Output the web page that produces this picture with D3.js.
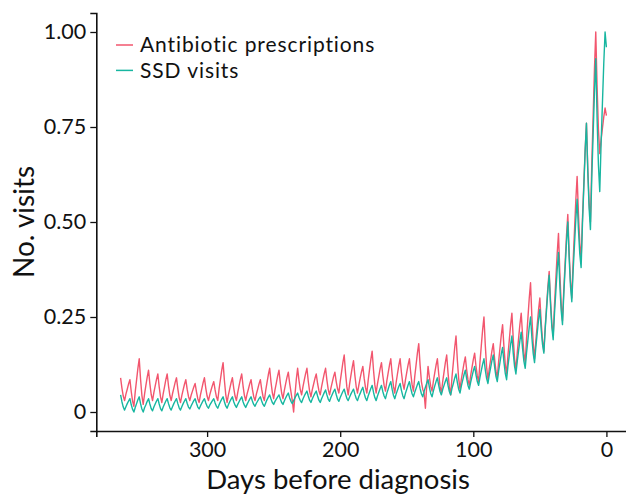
<!DOCTYPE html>
<html>
<head>
<meta charset="utf-8">
<script src="https://cdn.jsdelivr.net/npm/d3@7/dist/d3.min.js"></script>
<style>
  html, body { margin: 0; padding: 0; background: #fff; overflow: hidden; }
  svg { display: block; }
  text { font-family: Lato, "Open Sans", sans-serif; fill: #111; }
</style>
</head>
<body>
<svg id="chart" width="626" height="496"></svg>
<script>
// Days before diagnosis, from one year out down to the day of diagnosis
const days = d3.range(365, -1, -1);

// Daily visit counts, scaled so each series peaks at 1 (index 0 = day 365)
const antibiotic = [
  0.09,
  0.063, 0.042, 0.03, 0.047, 0.06, 0.074, 0.085,
  0.054, 0.029, 0.015, 0.053, 0.084, 0.115, 0.14,
  0.086, 0.044, 0.02, 0.047, 0.07, 0.092, 0.11,
  0.074, 0.046, 0.03, 0.051, 0.069, 0.086, 0.10,
  0.066, 0.04, 0.025, 0.048, 0.066, 0.085, 0.10,
  0.069, 0.044, 0.03, 0.048, 0.063, 0.078, 0.09,
  0.061, 0.038, 0.025, 0.043, 0.058, 0.073, 0.085,
  0.06, 0.041, 0.03, 0.044, 0.055, 0.066, 0.075,
  0.053, 0.035, 0.025, 0.045, 0.061, 0.077, 0.09,
  0.063, 0.042, 0.03, 0.045, 0.058, 0.07, 0.08,
  0.058, 0.04, 0.03, 0.06, 0.085, 0.11, 0.13,
  0.083, 0.046, 0.025, 0.045, 0.061, 0.077, 0.09,
  0.063, 0.042, 0.03, 0.051, 0.069, 0.086, 0.10,
  0.069, 0.044, 0.03, 0.047, 0.06, 0.074, 0.085,
  0.06, 0.041, 0.03, 0.047, 0.06, 0.074, 0.085,
  0.06, 0.041, 0.03, 0.056, 0.077, 0.098, 0.115,
  0.079, 0.051, 0.035, 0.058, 0.076, 0.095, 0.11,
  0.076, 0.05, 0.035, 0.056, 0.074, 0.091, 0.105,
  0.076, 0.053, 0.03, 0.0, 0.045, 0.085, 0.115,
  0.084, 0.059, 0.045, 0.066, 0.084, 0.101, 0.115,
  0.081, 0.055, 0.04, 0.058, 0.073, 0.088, 0.10,
  0.075, 0.056, 0.045, 0.066, 0.084, 0.101, 0.115,
  0.084, 0.059, 0.045, 0.063, 0.078, 0.093, 0.105,
  0.08, 0.061, 0.05, 0.08, 0.105, 0.13, 0.15,
  0.103, 0.066, 0.045, 0.072, 0.095, 0.117, 0.135,
  0.097, 0.067, 0.05, 0.071, 0.089, 0.106, 0.12,
  0.089, 0.064, 0.05, 0.083, 0.111, 0.138, 0.16,
  0.111, 0.072, 0.05, 0.074, 0.094, 0.114, 0.13,
  0.096, 0.07, 0.055, 0.081, 0.102, 0.123, 0.14,
  0.10, 0.068, 0.05, 0.077, 0.10, 0.122, 0.14,
  0.104, 0.076, 0.06, 0.084, 0.104, 0.124, 0.14,
  0.102, 0.072, 0.055, 0.093, 0.124, 0.155, 0.18,
  0.124, 0.08, 0.06, 0.05, 0.01, 0.07, 0.12,
  0.091, 0.068, 0.055, 0.081, 0.102, 0.123, 0.14,
  0.10, 0.068, 0.05, 0.08, 0.105, 0.13, 0.15,
  0.103, 0.066, 0.045, 0.092, 0.13, 0.169, 0.20,
  0.137, 0.088, 0.06, 0.086, 0.107, 0.128, 0.145,
  0.111, 0.085, 0.07, 0.096, 0.117, 0.138, 0.155,
  0.121, 0.095, 0.08, 0.131, 0.174, 0.216, 0.25,
  0.176, 0.118, 0.085, 0.114, 0.137, 0.161, 0.18,
  0.14, 0.108, 0.09, 0.132, 0.167, 0.202, 0.23,
  0.172, 0.126, 0.10, 0.148, 0.188, 0.228, 0.26,
  0.193, 0.14, 0.11, 0.155, 0.193, 0.23, 0.26,
  0.202, 0.156, 0.13, 0.193, 0.246, 0.298, 0.34,
  0.25, 0.18, 0.14, 0.188, 0.228, 0.268, 0.30,
  0.237, 0.188, 0.16, 0.223, 0.276, 0.328, 0.37,
  0.294, 0.234, 0.20, 0.281, 0.349, 0.416, 0.47,
  0.367, 0.286, 0.24, 0.324, 0.394, 0.464, 0.52,
  0.421, 0.344, 0.30, 0.396, 0.476, 0.556, 0.62,
  0.521, 0.444, 0.40, 0.508, 0.598, 0.688, 0.76,
  0.643, 0.552, 0.50, 0.65, 0.775, 0.90, 1.00,
  0.856, 0.744, 0.68, 0.716, 0.746, 0.776, 0.80,
  0.78
];

const ssd = [
  0.045,
  0.027, 0.013, 0.005, 0.014, 0.022, 0.029, 0.035,
  0.019, 0.007, 0.0, 0.012, 0.022, 0.032, 0.04,
  0.022, 0.008, 0.0, 0.011, 0.019, 0.028, 0.035,
  0.021, 0.009, 0.003, 0.013, 0.021, 0.029, 0.035,
  0.021, 0.009, 0.003, 0.013, 0.021, 0.029, 0.035,
  0.022, 0.011, 0.005, 0.014, 0.022, 0.029, 0.035,
  0.022, 0.011, 0.005, 0.014, 0.022, 0.029, 0.035,
  0.023, 0.013, 0.008, 0.016, 0.023, 0.030, 0.035,
  0.023, 0.013, 0.008, 0.016, 0.023, 0.030, 0.035,
  0.024, 0.015, 0.01, 0.018, 0.024, 0.03, 0.035,
  0.024, 0.015, 0.01, 0.019, 0.027, 0.034, 0.04,
  0.027, 0.016, 0.01, 0.019, 0.027, 0.034, 0.04,
  0.027, 0.018, 0.012, 0.020, 0.027, 0.034, 0.04,
  0.027, 0.018, 0.012, 0.020, 0.027, 0.034, 0.04,
  0.029, 0.02, 0.015, 0.023, 0.029, 0.035, 0.04,
  0.029, 0.02, 0.015, 0.024, 0.032, 0.039, 0.045,
  0.034, 0.025, 0.02, 0.028, 0.034, 0.04, 0.045,
  0.034, 0.025, 0.02, 0.029, 0.037, 0.044, 0.05,
  0.037, 0.028, 0.022, 0.030, 0.037, 0.044, 0.05,
  0.039, 0.03, 0.025, 0.034, 0.042, 0.049, 0.055,
  0.042, 0.031, 0.025, 0.034, 0.042, 0.049, 0.055,
  0.042, 0.031, 0.025, 0.035, 0.043, 0.051, 0.058,
  0.045, 0.034, 0.028, 0.038, 0.046, 0.054, 0.06,
  0.046, 0.034, 0.028, 0.038, 0.046, 0.054, 0.06,
  0.047, 0.036, 0.03, 0.039, 0.047, 0.054, 0.06,
  0.047, 0.036, 0.03, 0.041, 0.049, 0.058, 0.065,
  0.049, 0.037, 0.03, 0.042, 0.052, 0.062, 0.07,
  0.052, 0.038, 0.03, 0.042, 0.052, 0.062, 0.07,
  0.054, 0.042, 0.035, 0.049, 0.06, 0.071, 0.08,
  0.06, 0.044, 0.035, 0.047, 0.057, 0.067, 0.075,
  0.057, 0.043, 0.035, 0.049, 0.06, 0.071, 0.08,
  0.062, 0.048, 0.04, 0.052, 0.062, 0.072, 0.08,
  0.062, 0.048, 0.04, 0.054, 0.065, 0.076, 0.085,
  0.065, 0.049, 0.04, 0.055, 0.068, 0.08, 0.09,
  0.07, 0.054, 0.045, 0.059, 0.07, 0.081, 0.09,
  0.07, 0.054, 0.045, 0.062, 0.075, 0.089, 0.10,
  0.078, 0.06, 0.05, 0.068, 0.083, 0.098, 0.11,
  0.088, 0.07, 0.06, 0.078, 0.093, 0.108, 0.12,
  0.098, 0.08, 0.07, 0.091, 0.109, 0.126, 0.14,
  0.111, 0.088, 0.075, 0.098, 0.116, 0.135, 0.15,
  0.119, 0.094, 0.08, 0.107, 0.13, 0.152, 0.17,
  0.132, 0.102, 0.085, 0.12, 0.148, 0.177, 0.20,
  0.155, 0.12, 0.10, 0.133, 0.161, 0.188, 0.21,
  0.167, 0.134, 0.115, 0.156, 0.189, 0.223, 0.25,
  0.196, 0.154, 0.13, 0.172, 0.207, 0.242, 0.27,
  0.218, 0.178, 0.155, 0.217, 0.268, 0.319, 0.36,
  0.284, 0.224, 0.19, 0.259, 0.317, 0.374, 0.42,
  0.335, 0.268, 0.23, 0.311, 0.379, 0.446, 0.50,
  0.406, 0.332, 0.29, 0.371, 0.439, 0.506, 0.56,
  0.479, 0.416, 0.38, 0.494, 0.589, 0.684, 0.76,
  0.634, 0.536, 0.48, 0.615, 0.728, 0.84, 0.93,
  0.773, 0.65, 0.58, 0.706, 0.811, 0.916, 1.00,
  0.96
];

const seriesNames = ["Antibiotic prescriptions", "SSD visits"];
const seriesColors = ["#F2566E", "#17B6A0"];
const xTicks = [300, 200, 100, 0];
const yTicks = [0, 0.25, 0.5, 0.75, 1];
const yTickLabels = ["0", "0.25", "0.50", "0.75", "1.00"];

const svg = d3.select("#chart");

// Panel extents with the usual 5% padding around the data range
const x = d3.scaleLinear().domain([383.25, -18.25]).range([96.3, 630.7]);
const y = d3.scaleLinear().domain([-0.05, 1.05]).range([431, 13]);

const line = d3.line()
  .x((d, i) => x(days[i]))
  .y(d => y(d));

[antibiotic, ssd].forEach((values, s) => {
  svg.append("path")
    .datum(values)
    .attr("fill", "none")
    .attr("stroke", seriesColors[s])
    .attr("stroke-width", 1.4)
    .attr("stroke-linejoin", "round")
    .attr("d", line);
});

// Axes
const xAxis = svg.append("g")
  .attr("transform", `translate(0,${y(-0.05)})`)
  .call(d3.axisBottom(x).tickValues(xTicks).tickSize(6).tickPadding(5).tickFormat(d3.format("d")));
const yAxis = svg.append("g")
  .attr("transform", `translate(${x(383.25)},0)`)
  .call(d3.axisLeft(y).tickValues(yTicks).tickSize(6).tickPadding(4)
    .tickFormat((d, i) => yTickLabels[i]));

[xAxis, yAxis].forEach(g => {
  g.select(".domain").attr("stroke", "#111").attr("stroke-width", 1.6);
  g.selectAll(".tick line").attr("stroke", "#111").attr("stroke-width", 1.3);
  g.selectAll(".tick text").attr("font-size", 21.5).attr("fill", "#111")
    .style("font-family", "Lato, 'Open Sans', sans-serif");
});

// Axis titles
svg.append("text")
  .attr("x", 338).attr("y", 489)
  .attr("text-anchor", "middle")
  .attr("font-size", 27.5)
  .text("Days before diagnosis");
svg.append("text")
  .attr("transform", `translate(34,${y(0.5)}) rotate(-90)`)
  .attr("text-anchor", "middle")
  .attr("font-size", 28)
  .text("No. visits");

// Legend: colour keys and series names
const legendRowY = i => 45 + i * 25.4;
const legend = svg.append("g");
seriesNames.forEach((name, i) => {
  legend.append("line")
    .attr("x1", 116).attr("x2", 133)
    .attr("y1", legendRowY(i)).attr("y2", legendRowY(i))
    .attr("stroke", seriesColors[i]).attr("stroke-width", 1.5);
  legend.append("text")
    .attr("x", 140).attr("y", legendRowY(i) + 7.2)
    .attr("font-size", 21)
    .attr("letter-spacing", 0.9)
    .text(name);
});
</script>
</body>
</html>
